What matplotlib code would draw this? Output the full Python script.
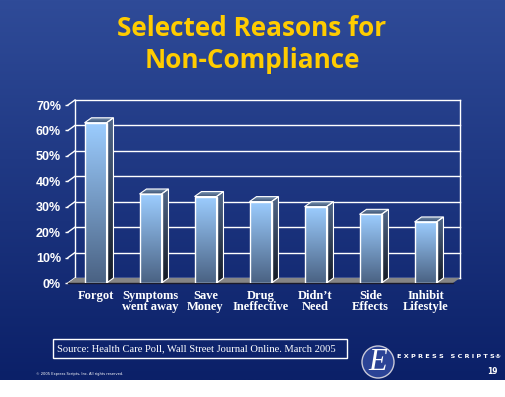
import numpy as np
import matplotlib
matplotlib.use("Agg")
import matplotlib.pyplot as plt
from matplotlib.patches import Polygon, Rectangle, Circle
from matplotlib.colors import to_rgb

categories = ["Forgot", "Symptoms\nwent away", "Save\nMoney", "Drug\nIneffective",
              "Didn\u2019t\nNeed", "Side\nEffects", "Inhibit\nLifestyle"]
values = [63, 35, 34, 32, 30, 27, 24]
yticks = [0, 10, 20, 30, 40, 50, 60, 70]
ytick_labels = ["0%", "10%", "20%", "30%", "40%", "50%", "60%", "70%"]

W, H = 505, 397
fig = plt.figure(figsize=(W / 100, H / 100), dpi=100)
fig.patch.set_facecolor("white")

# slide background gradient
bg = fig.add_axes([0, 0, 1, 1], zorder=0)
top_c, bot_c = np.array(to_rgb("#2f4b98")), np.array(to_rgb("#0b2068"))
t = np.linspace(0, 1, 256)[:, None, None]
grad = top_c * (1 - t) + bot_c * t
bg.imshow(grad, extent=[0, W, 380, 0], aspect="auto")
bg.set_xlim(0, W)
bg.set_ylim(H, 0)
bg.axis("off")

bg.text(252, 28, "Selected Reasons for", color="#ffcc00", fontsize=18.8, fontweight="bold",
        family="Open Sans", ha="center", va="center")
bg.text(252, 61, "Non-Compliance", color="#ffcc00", fontsize=18.8, fontweight="bold",
        family="Open Sans", ha="center", va="center")

# source box
bg.add_patch(Rectangle((53, 339), 294, 19, fill=False, edgecolor="white", lw=1))
bg.text(57, 348.5, "Source: Health Care Poll, Wall Street Journal Online. March 2005",
        color="white", fontsize=7.6, family="Liberation Serif", va="center", ha="left")

# logo
bg.add_patch(Circle((378, 362), 16, facecolor="#2b4396", edgecolor="#c8c8d8", lw=1))
bg.text(378, 363, "E", color="white", fontsize=22, family="Liberation Serif",
        style="italic", ha="center", va="center")
bg.text(397, 357, "E X P R E S S   S C R I P T S\u00ae", color="white", fontsize=4.65,
        fontweight="bold", family="DejaVu Sans", ha="left", va="center")
bg.text(498, 371.5, "19", color="white", fontsize=5.5, fontweight="bold",
        family="DejaVu Sans", ha="right", va="center")
bg.text(36, 374, "\u00a9 2005 Express Scripts, Inc. All rights reserved.", color="white",
        fontsize=2.6, ha="left", va="center")

# chart axes (front frame)
ax = fig.add_axes([68 / W, (H - 283) / H, 385 / W, 178 / H], zorder=2)
ax.patch.set_alpha(0)
for s in ax.spines.values():
    s.set_visible(False)

dx, dy = 0.127, 1.97   # depth offset in data units
x0, x1 = -0.5, 6.5
wd = 0.2

# back wall gridlines + left wall
for yv in yticks:
    ax.plot([x0 + dx, x1 + dx], [yv + dy, yv + dy], color="white", lw=1, zorder=1, clip_on=False)
    ax.plot([x0, x0 + dx], [yv, yv + dy], color="white", lw=1, zorder=1, clip_on=False)
ax.plot([x0 + dx, x0 + dx], [dy, 70 + dy], color="white", lw=1, zorder=1, clip_on=False)
ax.plot([x1 + dx, x1 + dx], [dy, 70 + dy], color="white", lw=1, zorder=1, clip_on=False)

# floor
ax.add_patch(Polygon([(x0, 0), (x1, 0), (x1 + dx, dy), (x0 + dx, dy)], closed=True,
                     facecolor="#858585", edgecolor="none", zorder=1.5, clip_on=False))
ax.plot([x0, x1], [0, 0], color="#1a1a2a", lw=1, zorder=1.6, clip_on=False)


def vgrad(c_top, c_bot, n=128):
    a, b = np.array(to_rgb(c_top)), np.array(to_rgb(c_bot))
    s = np.linspace(0, 1, n)[:, None, None]
    return a * (1 - s) + b * s


for i, v in enumerate(values):
    l, r = i - wd, i + wd
    # side face
    side = Polygon([(r, 0), (r + dx, dy), (r + dx, v + dy), (r, v)], closed=True,
                   facecolor="none", edgecolor="white", lw=0.8, zorder=4)
    ax.add_patch(side)
    im = ax.imshow(vgrad("#50678a", "#141a24"), extent=[r, r + dx, 0, v + dy],
                   aspect="auto", zorder=3, interpolation="bilinear")
    im.set_clip_path(side)
    # top face
    top = Polygon([(l, v), (r, v), (r + dx, v + dy), (l + dx, v + dy)], closed=True,
                  facecolor="none", edgecolor="white", lw=0.8, zorder=4)
    ax.add_patch(top)
    im = ax.imshow(vgrad("#7f9bbb", "#3a5070"), extent=[l, r + dx, v, v + dy],
                   aspect="auto", zorder=3, interpolation="bilinear")
    im.set_clip_path(top)
    # front face
    ax.imshow(vgrad("#9ccdff", "#4a6283"), extent=[l, r, 0, v], aspect="auto",
              zorder=3, interpolation="bilinear")
    ax.add_patch(Rectangle((l, 0), 2 * wd, v, facecolor="none", edgecolor="white",
                           lw=1, zorder=4))

ax.set_xlim(x0, x1)
ax.set_ylim(0, 70)
ax.set_xticks(range(len(categories)), categories)
ax.set_yticks(yticks, ytick_labels)
ax.tick_params(axis="x", length=0, pad=5, colors="white")
ax.tick_params(axis="y", length=2, width=1, pad=3, colors="white")
for lbl in ax.get_xticklabels():
    lbl.set_family("Liberation Serif")
    lbl.set_fontweight("bold")
    lbl.set_fontsize(9)
    lbl.set_linespacing(0.95)
for lbl in ax.get_yticklabels():
    lbl.set_family("Liberation Sans")
    lbl.set_fontweight("bold")
    lbl.set_fontsize(9)

fig.savefig("out.png", dpi=100)
